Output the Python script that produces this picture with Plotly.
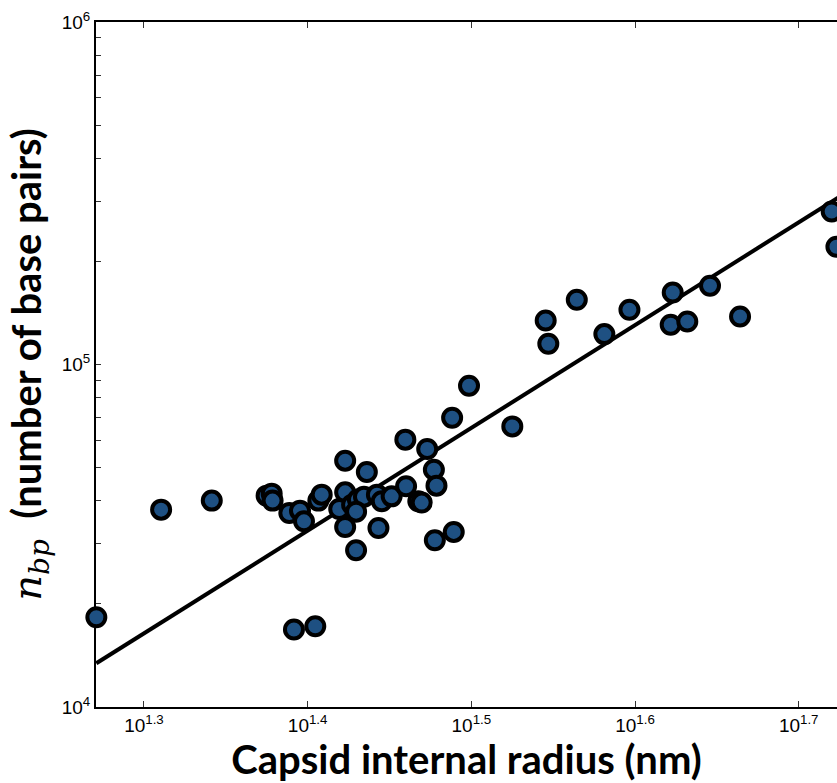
import plotly.graph_objects as go

# Capsid internal radius (nm) and number of base pairs
radius_nm = [18.66, 20.44, 21.95, 23.71, 23.88, 23.91, 24.48, 24.85, 24.99, 24.64,
             25.39, 25.50, 25.62, 26.48, 26.48, 26.48, 26.26, 26.74, 26.96, 27.19,
             26.89, 27.30, 26.89, 27.75, 27.69, 27.88, 28.27, 28.82, 28.85, 29.35,
             29.49, 29.72, 30.00, 30.11, 30.04, 30.85, 30.78, 31.52, 33.50, 35.11,
             35.24, 36.68, 38.13, 39.50, 41.98, 41.86, 42.85, 44.24, 46.15, 52.50,
             52.85]
n_bp = [18280, 37690, 40050, 41410, 41970, 40050, 36860, 37440, 34840, 16840,
        17210, 40050, 41690, 52390, 42340, 33550, 37870, 38980, 40320, 41130,
        37190, 48560, 28680, 33330, 41690, 39860, 41210, 60340, 44090, 39860,
        39520, 56660, 49310, 44290, 30670, 32450, 69930, 86700, 65960, 134450,
        114960, 154500, 122670, 144450, 162260, 130610, 133530, 169720, 138090, 279600,
        220600]

# fitted power-law line (endpoints)
fit_x = [18.66, 53.5]
fit_y = [13420, 316200]

x_tick_exps = [1.3, 1.4, 1.5, 1.6, 1.7]
x_tick_vals = [10 ** e for e in x_tick_exps]
x_tick_text = ["10<sup>%g</sup>" % e for e in x_tick_exps]

y_tick_vals = []
y_tick_text = []
for dec in [4, 5]:
    for m in range(1, 10):
        y_tick_vals.append(m * 10 ** dec)
        y_tick_text.append("10<sup>%d</sup>" % dec if m == 1 else " ")
y_tick_vals.append(10 ** 6)
y_tick_text.append("10<sup>6</sup>")

fig = go.Figure()
fig.add_trace(go.Scatter(
    x=fit_x, y=fit_y, mode="lines",
    line=dict(color="black", width=4), showlegend=False, hoverinfo="skip"))
fig.add_trace(go.Scatter(
    x=radius_nm, y=n_bp, mode="markers", cliponaxis=False,
    marker=dict(size=18, color="#1e5082", line=dict(color="black", width=4)),
    showlegend=False))

tick_font = dict(family="Liberation Sans, Arial, sans-serif", size=19, color="black")
title_font = dict(family="Lato, sans-serif", size=40, color="black")

fig.update_layout(
    width=837, height=783,
    margin=dict(l=96, r=0, t=22, b=76),
    paper_bgcolor="white", plot_bgcolor="white",
    xaxis=dict(
        type="log", range=[1.2707, 1.7234],
        tickvals=x_tick_vals, ticktext=x_tick_text,
        ticks="inside", ticklen=6, tickwidth=1, tickcolor="#333",
        showline=True, linecolor="black", linewidth=2, mirror="ticks",
        showgrid=False, zeroline=False, layer="below traces",
        tickfont=tick_font,
        title=dict(text="<b>Capsid internal radius (nm)</b>", font=title_font, standoff=4),
    ),
    yaxis=dict(
        type="log", range=[4, 6],
        tickvals=y_tick_vals, ticktext=y_tick_text,
        ticks="inside", ticklen=5, tickwidth=1, tickcolor="#333",
        showline=True, linecolor="black", linewidth=2, mirror=False,
        showgrid=False, zeroline=False, layer="below traces",
        tickfont=tick_font,
        title=dict(
            text="<span style=\"font-family:'DejaVu Serif';\"><i>n</i><sub><i>bp</i></sub></span>  <b>(number of base pairs)</b>",
            font=title_font, standoff=8),
    ),
)

fig.write_html("out.html", config={"displayModeBar": False},
               post_script="document.body.style.margin='0';document.body.style.overflow='hidden';")
